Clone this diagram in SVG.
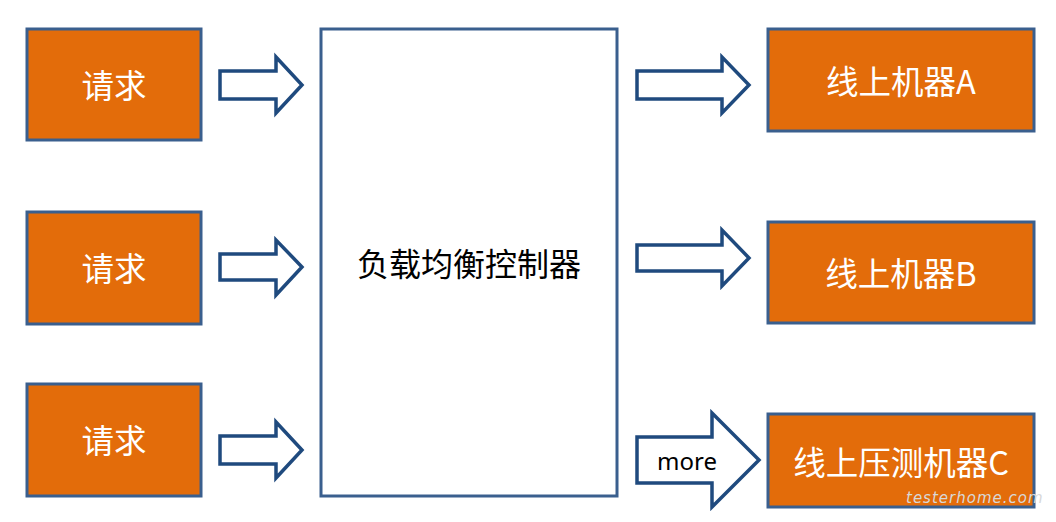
<svg xmlns="http://www.w3.org/2000/svg" width="1056" height="522" viewBox="0 0 1056 522">
<style>
.box{fill:#E36C0A;stroke:#3A5F8E;stroke-width:3}
.ctr{fill:#FFFFFF;stroke:#3A5F8E;stroke-width:3}
.arr{fill:#FFFFFF;stroke:#1F4A7E;stroke-width:3.5;stroke-linejoin:miter}
.t{font-family:"Microsoft YaHei","Noto Sans CJK SC",sans-serif;fill:#FFFFFF;font-size:32.5px;text-anchor:middle;dominant-baseline:central}
.tc{font-family:"Microsoft YaHei","Noto Sans CJK SC",sans-serif;fill:#000000;font-size:32px;text-anchor:middle;dominant-baseline:central}
.tm{font-family:"Noto Sans","Open Sans",sans-serif;fill:#000000;font-size:24px;text-anchor:middle;dominant-baseline:central}
.wm{font-family:"DejaVu Sans",sans-serif;fill:#D8D8D8;font-size:15px;font-style:italic;letter-spacing:1px}
</style>
<rect width="1056" height="522" fill="#FFFFFF"/>
<g id="req1"><rect class="box" x="27" y="29" width="174" height="111"/><text class="t" x="114" y="83">请求</text></g>
<g id="req2"><rect class="box" x="27" y="212" width="174" height="112"/><text class="t" x="114" y="266">请求</text></g>
<g id="req3"><rect class="box" x="27" y="384" width="174" height="112"/><text class="t" x="114" y="438">请求</text></g>
<g id="lb"><rect class="ctr" x="321" y="29" width="296" height="467"/><text class="tc" x="469" y="262">负载均衡控制器</text></g>
<g id="mA"><rect class="box" x="768" y="29" width="266" height="102"/><text class="t" x="901" y="79">线上机器A</text></g>
<g id="mB"><rect class="box" x="768" y="222" width="266" height="101"/><text class="t" x="901" y="271">线上机器B</text></g>
<g id="mC"><rect class="box" x="768" y="414" width="266" height="93"/><text class="t" x="901" y="460">线上压测机器C</text></g>
<g id="connectors">
<polygon class="arr" points="220,71 276,71 276,57 302,85 276,113 276,99 220,99"/>
<polygon class="arr" points="220,254 276,254 276,240 302,267 276,295 276,280 220,280"/>
<polygon class="arr" points="220,436 276,436 276,422 302,450 276,478 276,464 220,464"/>
<polygon class="arr" points="637,71 722,71 722,57 749,85 722,113 722,99 637,99"/>
<polygon class="arr" points="637,245 722,245 722,230 749,258 722,286 722,271 637,271"/>
<polygon class="arr" points="637,437 712,437 712,413 759,460 712,507 712,483 637,483"/>
<text class="tm" x="687" y="460">more</text>
</g>
<text class="wm" x="906" y="503">testerhome.com</text>
</svg>
